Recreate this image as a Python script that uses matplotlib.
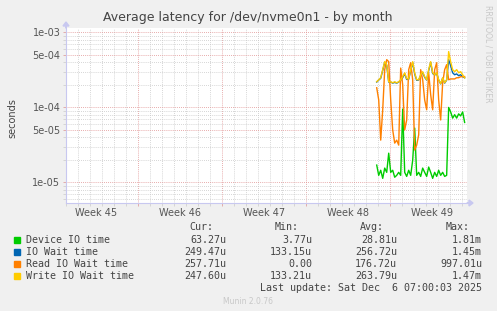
import numpy as np
import matplotlib
matplotlib.use('Agg')
from matplotlib import pyplot as plt
from matplotlib.ticker import LogLocator, NullFormatter, FixedLocator

# time axis: days since Sun 2 Nov 2025 00:00, one sample every 4 hours
t_start = 26.89
t_step = 1.0 / 6

# latencies in microseconds
device_io = [17, 12.4, 14.5, 11.3, 15.5, 13.6, 24.5, 13.6, 14.5, 11.7, 12.4, 13.6,
             12.4, 95, 13.6, 12, 14.5, 12.4, 19.7, 53, 12.4, 13.6, 12, 15.5,
             13.6, 12, 16, 13.6, 11.3, 13.6, 12, 14.5, 12.4, 13.6, 12, 12.4,
             100, 87, 72, 80, 72, 82, 77, 87, 63]
io_wait = [218, 232, 245, 312, 400, 365, 218, 218, 211, 216, 211, 218,
           230, 250, 282, 236, 238, 310, 395, 280, 230, 232, 268, 292,
           252, 232, 310, 398, 284, 270, 286, 232, 206, 246, 211, 232,
           434, 360, 290, 273, 280, 265, 273, 257, 249]
read_io_wait = [183, 126, 36.6, 93, 319, 434, 408, 126, 50, 33.4, 36.6, 31.4,
                335, 200, 50, 68, 319, 395, 234, 27, 31.4, 43, 319, 234,
                126, 93, 290, 148, 93, 319, 395, 126, 68, 213, 319, 372,
                234, 240, 240, 240, 249, 249, 257, 257, 258]
write_io_wait = [220, 234, 249, 319, 408, 372, 220, 220, 213, 220, 213, 220,
                 234, 257, 290, 241, 241, 319, 408, 290, 234, 234, 273, 300,
                 257, 234, 319, 408, 290, 273, 290, 234, 207, 249, 213, 234,
                 556, 408, 319, 300, 319, 290, 300, 273, 248]

names = ['Device IO time', 'IO Wait time', 'Read IO Wait time', 'Write IO Wait time']
colors = ['#00CC00', '#0066B3', '#FF8000', '#FFCC00']
cur = ['63.27u', '249.47u', '257.71u', '247.60u']
mins = ['3.77u', '133.15u', '0.00', '133.21u']
avgs = ['28.81u', '256.72u', '176.72u', '263.79u']
maxs = ['1.81m', '1.45m', '997.01u', '1.47m']
week_labels = ['Week 45', 'Week 46', 'Week 47', 'Week 48', 'Week 49']
week_starts = [0, 7, 14, 21, 28]

t = t_start + t_step * np.arange(len(device_io))

W, H = 497, 311
fig = plt.figure(figsize=(W / 100, H / 100), dpi=100, facecolor='#F0F0F0')
ax = fig.add_axes([66 / W, (H - 203) / H, (467 - 66) / W, (203 - 28) / H])
ax.set_facecolor('white')

for vals, c in zip([device_io, io_wait, read_io_wait, write_io_wait], colors):
    ax.plot(t, np.array(vals) * 1e-6, color=c, lw=1.0, zorder=3)

ax.set_yscale('log')
ax.set_ylim(5.3e-6, 1.148e-3)
ax.set_xlim(0.975, 34.42)

# grid: minor gray dotted, major red dotted
ax.yaxis.set_major_locator(FixedLocator([1e-5, 5e-5, 1e-4, 5e-4, 1e-3]))
ax.set_yticklabels(['1e-05', '5e-05', '1e-04', '5e-04', '1e-03'])
ax.yaxis.set_minor_locator(LogLocator(base=10, subs=np.arange(2, 10)))
ax.yaxis.set_minor_formatter(NullFormatter())
ax.xaxis.set_major_locator(FixedLocator(week_starts[1:]))
ax.xaxis.set_minor_locator(FixedLocator(np.arange(1, 35)))
ax.set_xticklabels([])
ax.grid(which='minor', color='#C8C8C8', lw=0.6, ls=(0, (1, 1.5)))
ax.grid(which='major', color='#E09090', lw=0.6, ls=(0, (1, 1.5)))

for w, lab in zip(week_starts, week_labels):
    ax.text(w + 3.5, -0.03, lab, transform=ax.get_xaxis_transform(),
            ha='center', va='top', fontsize=7, color='#555555')

ax.tick_params(which='both', length=2, width=0.6, colors='#E0A0A0', labelcolor='#555555',
               labelsize=7, pad=2)
ax.tick_params(axis='y', which='minor', colors='#D0D0D0')
ax.tick_params(axis='x', which='minor', colors='#D0D0D0')
for s in ['top', 'right']:
    ax.spines[s].set_visible(False)
for s in ['left', 'bottom']:
    ax.spines[s].set_color('#C8C8F0')
    ax.spines[s].set_linewidth(0.8)

# axis arrows
fig.patches.append(matplotlib.patches.FancyArrow(467 / W, (H - 203) / H, 2 / W, 0,
                   width=0.001, head_width=6 / H, head_length=4 / W, color='#C8C8F0',
                   transform=fig.transFigure, figure=fig))
fig.patches.append(matplotlib.patches.FancyArrow(66 / W, (H - 28) / H, 0, 2 / H,
                   width=0.001, head_width=6 / W, head_length=4 / H, color='#C8C8F0',
                   transform=fig.transFigure, figure=fig))

fig.text(248 / W, 1 - 18 / H, 'Average latency for /dev/nvme0n1 - by month',
         ha='center', va='center', fontsize=9, color='#444444')
fig.text(12 / W, 1 - 118 / H, 'seconds', rotation=90, ha='center', va='center',
         fontsize=7, color='#444444')
fig.text(488 / W, 1 - 5 / H, 'RRDTOOL / TOBI OETIKER', rotation=270, ha='center',
         va='top', fontsize=5.5, color='#C8C8C8')

mono = dict(family='DejaVu Sans Mono', fontsize=7.2, color='#444444', va='center')
col_right = [226, 312, 397, 482]
headers = ['Cur:', 'Min:', 'Avg:', 'Max:']
head_right = [213, 299, 384, 470]
for x, h in zip(head_right, headers):
    fig.text(x / W, 1 - 227.5 / H, h, ha='right', **mono)
for i, (n, c) in enumerate(zip(names, colors)):
    y = 1 - (240 + 12 * i) / H
    fig.patches.append(matplotlib.patches.Rectangle((14 / W, y - 3 / H), 6 / W, 6 / H,
                       color=c, transform=fig.transFigure, figure=fig))
    fig.text(26 / W, y, n, ha='left', **mono)
    for x, v in zip(col_right, [cur[i], mins[i], avgs[i], maxs[i]]):
        fig.text(x / W, y, v, ha='right', **mono)
fig.text(482 / W, 1 - 288 / H, 'Last update: Sat Dec  6 07:00:03 2025', ha='right', **mono)
fig.text(248 / W, 1 - 301 / H, 'Munin 2.0.76', ha='center', va='center', fontsize=5.5,
         color='#C8C8C8')

fig.savefig('out.png', dpi=100, facecolor=fig.get_facecolor())
